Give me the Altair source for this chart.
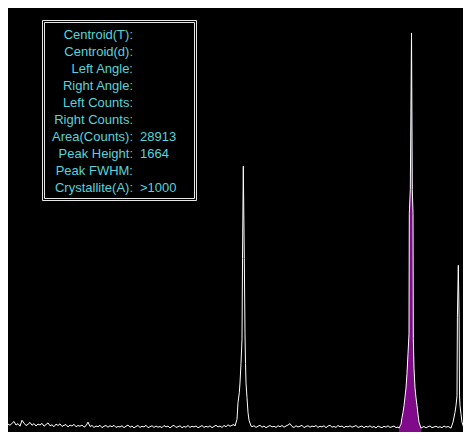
import altair as alt
import pandas as pd

# ---------------- data ----------------
# background noise (counts), sampled every 2 units of x starting at x = 0
bg_step = 2
bg_counts = [
    30, 38, 26, 41, 33, 28, 36, 44, 29, 35, 24, 49, 37, 27, 32, 40, 28, 35, 25, 33,
    29, 36, 24, 31, 38, 26, 30, 22, 33, 27, 34, 23, 28, 31, 21, 29, 25, 32, 22, 27,
    24, 29, 20, 26, 41, 23, 27, 19, 25, 22, 28, 18, 24, 27, 20, 26, 22, 28, 19, 23,
    21, 26, 18, 24, 29, 20, 25, 17, 23, 27, 19, 24, 21, 28, 18, 22, 26, 19, 25, 20,
    23, 18, 27, 21, 25, 17, 24, 28, 19, 22, 26, 18, 23, 20, 27, 19, 24, 21, 25, 18,
    22, 27, 19, 24, 20, 26, 18, 23, 28, 21, 25, 19, 27, 22, 30, 24, 28, 31, 35, 40,
    40, 35, 30, 28, 26, 30, 22, 26, 19, 24, 28, 20, 25, 18, 23, 27, 21, 24, 19, 26,
    22, 27, 20, 25, 29, 35, 23, 19, 26, 21, 24, 28, 18, 23, 26, 20, 25, 22, 27, 19,
    24, 21, 26, 18, 25, 28, 20, 23, 19, 27, 22, 25, 18, 24, 21, 26, 20, 23, 27, 19,
    22, 25, 18, 24, 20, 26, 19, 23, 17, 25, 21, 18, 24, 20, 26, 19, 22, 25, 18, 21,
    20, 22, 24, 26, 30, 34, 38, 34, 30, 26, 22, 19, 23, 17, 22, 25, 18, 21, 24, 19,
    22, 18, 25, 20, 23, 19, 21, 24, 26, 30, 34, 30, 26, 19, 24, 21,
]

peak1_x = [235, 237, 238, 239.3, 240, 241, 242, 242.5, 243.3, 244.3, 245, 245.5, 246, 247, 248, 249, 251]
peak1_counts = [25, 53, 123, 164, 205, 286, 389, 724, 1108, 724, 409, 286, 205, 143, 82, 49, 25]

peak2_x = [399, 401, 402, 403, 404, 405, 406, 407, 408, 409, 409.3, 410.3, 411.5, 412.3, 413, 413.3,
           414, 415, 416, 417, 418, 419, 421]
peak2_counts = [16, 33, 61, 82, 110, 147, 184, 245, 327, 409, 912, 1010, 1664, 1010, 912, 389,
                266, 184, 143, 110, 74, 41, 16]

peak3_x = [451, 453, 455, 456, 457, 457.4, 458.3, 459.1, 459.5, 460, 461, 462, 464]
peak3_counts = [16, 41, 82, 110, 151, 479, 695, 479, 151, 110, 74, 41, 16]

info_labels = ["Centroid(T):", "Centroid(d):", "Left Angle:", "Right Angle:", "Left Counts:",
               "Right Counts:", "Area(Counts):", "Peak Height:", "Peak FWHM:", "Crystallite(A):"]
info_values = ["", "", "", "", "", "", "28913", "1664", "", ">1000"]

# ---------------- build tables ----------------
peaks = [(peak1_x, peak1_counts), (peak2_x, peak2_counts), (peak3_x, peak3_counts)]
spans = [(min(xs), max(xs)) for xs, _ in peaks]
rows = []
for i, c in enumerate(bg_counts):
    x = i * bg_step
    if any(lo <= x <= hi for lo, hi in spans):
        continue
    rows.append((x, c))
for xs, cs in peaks:
    rows.extend(zip(xs, cs))
rows.sort()
spec = pd.DataFrame(rows, columns=["x", "counts"])
area_df = pd.DataFrame(list(zip(peak2_x, peak2_counts)), columns=["x", "counts"])
info = pd.DataFrame({"label": info_labels, "value": info_values, "row": list(range(len(info_labels)))})

CYAN = "#4fd6df"
W, H = 455, 424
xs_ = alt.Scale(domain=[8, 463], nice=False, zero=False)
ys_ = alt.Scale(domain=[0, 1768], nice=False, zero=False)
row_scale = alt.Scale(domain=[-1.606, 23.335], nice=False, zero=False, reverse=True)

area = alt.Chart(area_df).mark_area(color="#800a8a", clip=True, opacity=1).encode(
    x=alt.X("x:Q", scale=xs_, axis=None),
    y=alt.Y("counts:Q", scale=ys_, axis=None),
)
line = alt.Chart(spec).mark_line(color="white", strokeWidth=1, clip=True).encode(
    x=alt.X("x:Q", scale=xs_, axis=None),
    y=alt.Y("counts:Q", scale=ys_, axis=None),
)
one = pd.DataFrame({"k": [0]})
outer = alt.Chart(one).mark_rect(fill="black", stroke="#e8e8e8", strokeWidth=1).encode(
    x=alt.value(34.5), x2=alt.value(188.5), y=alt.value(12.5), y2=alt.value(192.5)
)
inner = alt.Chart(one).mark_rect(fill="black", stroke="#e8e8e8", strokeWidth=1).encode(
    x=alt.value(36.5), x2=alt.value(186.5), y=alt.value(14.5), y2=alt.value(190.5)
)
labels = alt.Chart(info).mark_text(align="right", baseline="middle", font="Liberation Sans",
                                   fontSize=13, color=CYAN).encode(
    x=alt.value(125),
    y=alt.Y("row:Q", scale=row_scale, axis=None),
    text="label:N",
)
values = alt.Chart(info).mark_text(align="left", baseline="middle", font="Liberation Sans",
                                   fontSize=13, color=CYAN).encode(
    x=alt.value(132),
    y=alt.Y("row:Q", scale=row_scale, axis=None),
    text="value:N",
)

chart = alt.layer(area, line, outer, inner, labels, values).resolve_scale(y="independent").properties(
    width=W, height=H, background="black", padding=0,
    autosize=alt.AutoSizeParams(type="none"),
).configure_view(stroke=None)

chart.save("out.html", embed_options={"renderer": "svg", "actions": False})
